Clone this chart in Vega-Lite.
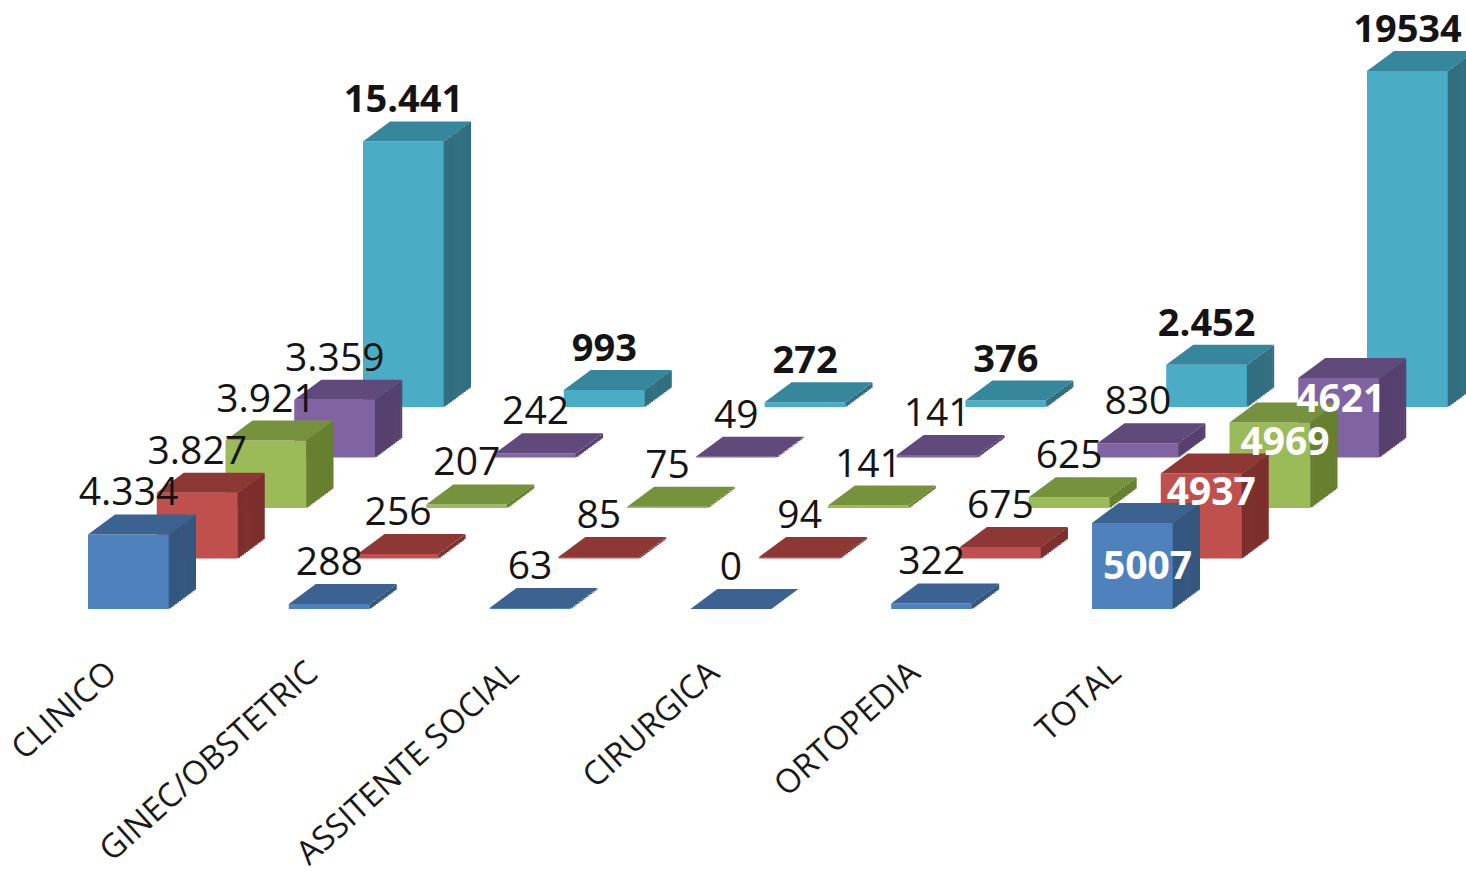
{"$schema":"https://vega.github.io/schema/vega-lite/v6.json","width":1466,"height":650,"padding":{"left":0,"top":0,"right":0,"bottom":224},"autosize":{"type":"none"},"background":"white","view":{"stroke":null},
"datasets":{"rows":[
{"cat":"CLINICO","series":"S5","value":15441,"label":"15.441"},{"cat":"GINEC/OBSTETRIC","series":"S5","value":993,"label":"993"},{"cat":"ASSITENTE SOCIAL","series":"S5","value":272,"label":"272"},{"cat":"CIRURGICA","series":"S5","value":376,"label":"376"},{"cat":"ORTOPEDIA","series":"S5","value":2452,"label":"2.452"},{"cat":"TOTAL","series":"S5","value":19534,"label":"19534"},
{"cat":"CLINICO","series":"S4","value":3359,"label":"3.359"},{"cat":"GINEC/OBSTETRIC","series":"S4","value":242,"label":"242"},{"cat":"ASSITENTE SOCIAL","series":"S4","value":49,"label":"49"},{"cat":"CIRURGICA","series":"S4","value":141,"label":"141"},{"cat":"ORTOPEDIA","series":"S4","value":830,"label":"830"},{"cat":"TOTAL","series":"S4","value":4621,"label":"4621"},
{"cat":"CLINICO","series":"S3","value":3921,"label":"3.921"},{"cat":"GINEC/OBSTETRIC","series":"S3","value":207,"label":"207"},{"cat":"ASSITENTE SOCIAL","series":"S3","value":75,"label":"75"},{"cat":"CIRURGICA","series":"S3","value":141,"label":"141"},{"cat":"ORTOPEDIA","series":"S3","value":625,"label":"625"},{"cat":"TOTAL","series":"S3","value":4969,"label":"4969"},
{"cat":"CLINICO","series":"S2","value":3827,"label":"3.827"},{"cat":"GINEC/OBSTETRIC","series":"S2","value":256,"label":"256"},{"cat":"ASSITENTE SOCIAL","series":"S2","value":85,"label":"85"},{"cat":"CIRURGICA","series":"S2","value":94,"label":"94"},{"cat":"ORTOPEDIA","series":"S2","value":675,"label":"675"},{"cat":"TOTAL","series":"S2","value":4937,"label":"4937"},
{"cat":"CLINICO","series":"S1","value":4334,"label":"4.334"},{"cat":"GINEC/OBSTETRIC","series":"S1","value":288,"label":"288"},{"cat":"ASSITENTE SOCIAL","series":"S1","value":63,"label":"63"},{"cat":"CIRURGICA","series":"S1","value":0,"label":"0"},{"cat":"ORTOPEDIA","series":"S1","value":322,"label":"322"},{"cat":"TOTAL","series":"S1","value":5007,"label":"5007"}
]},
"data":{"name":"rows"},
"encoding":{
"x":{"field":"cat","type":"nominal","sort":null,"title":null,"scale":{"domain":["CLINICO","GINEC/OBSTETRIC","ASSITENTE SOCIAL","CIRURGICA","ORTOPEDIA","TOTAL"],"range":[28.1,1232.9],"paddingInner":0,"paddingOuter":0},"axis":{"domain":false,"ticks":false,"labelAngle":-42,"labelFont":"Open Sans","labelFontSize":33,"labelColor":"#1a1a1a","labelPadding":6,"labelOffset":-27,"labelLimit":500,"labelOverlap":false,"grid":false}},
"y":{"field":"value","type":"quantitative","stack":null,"title":null,"scale":{"domain":[0,35000],"range":[609,7],"nice":false,"zero":false},"axis":null}
},
"resolve":{"scale":{"color":"independent"}},
"layer":[
{"mark":{"type":"bar","width":81,"xOffset":{"expr":"indexof(['S1','S2','S3','S4','S5'],datum.series)*68.75"},"yOffset":{"expr":"indexof(['S1','S2','S3','S4','S5'],datum.series)*-50.5"},"y2Offset":{"expr":"indexof(['S1','S2','S3','S4','S5'],datum.series)*-50.5"}},"encoding":{"y2":{"datum":0},"color":{"field":"series","type":"nominal","legend":null,"scale":{"domain":["S1","S2","S3","S4","S5"],"range":["#4F81BD","#C0504D","#9BBB59","#8064A2","#4BACC6"]}}}},
{"mark":{"type":"rule","strokeWidth":2.6,"xOffset":{"expr":"indexof(['S1','S2','S3','S4','S5'],datum.series)*68.75+41.5"},"yOffset":{"expr":"indexof(['S1','S2','S3','S4','S5'],datum.series)*-50.5-0.7"},"y2Offset":{"expr":"indexof(['S1','S2','S3','S4','S5'],datum.series)*-50.5-0.7"}},"encoding":{"y2":{"datum":0},"color":{"field":"series","type":"nominal","legend":null,"scale":{"domain":["S1","S2","S3","S4","S5"],"range":["#345780","#7C2F2D","#66802F","#57406F","#316F80"]}}}},
{"mark":{"type":"rule","strokeWidth":2.6,"xOffset":{"expr":"indexof(['S1','S2','S3','S4','S5'],datum.series)*68.75+43.43"},"yOffset":{"expr":"indexof(['S1','S2','S3','S4','S5'],datum.series)*-50.5-2.13"},"y2Offset":{"expr":"indexof(['S1','S2','S3','S4','S5'],datum.series)*-50.5-2.13"}},"encoding":{"y2":{"datum":0},"color":{"field":"series","type":"nominal","legend":null,"scale":{"domain":["S1","S2","S3","S4","S5"],"range":["#345780","#7C2F2D","#66802F","#57406F","#316F80"]}}}},
{"mark":{"type":"rule","strokeWidth":2.6,"xOffset":{"expr":"indexof(['S1','S2','S3','S4','S5'],datum.series)*68.75+45.36"},"yOffset":{"expr":"indexof(['S1','S2','S3','S4','S5'],datum.series)*-50.5-3.56"},"y2Offset":{"expr":"indexof(['S1','S2','S3','S4','S5'],datum.series)*-50.5-3.56"}},"encoding":{"y2":{"datum":0},"color":{"field":"series","type":"nominal","legend":null,"scale":{"domain":["S1","S2","S3","S4","S5"],"range":["#345780","#7C2F2D","#66802F","#57406F","#316F80"]}}}},
{"mark":{"type":"rule","strokeWidth":2.6,"xOffset":{"expr":"indexof(['S1','S2','S3','S4','S5'],datum.series)*68.75+47.29"},"yOffset":{"expr":"indexof(['S1','S2','S3','S4','S5'],datum.series)*-50.5-4.99"},"y2Offset":{"expr":"indexof(['S1','S2','S3','S4','S5'],datum.series)*-50.5-4.99"}},"encoding":{"y2":{"datum":0},"color":{"field":"series","type":"nominal","legend":null,"scale":{"domain":["S1","S2","S3","S4","S5"],"range":["#345780","#7C2F2D","#66802F","#57406F","#316F80"]}}}},
{"mark":{"type":"rule","strokeWidth":2.6,"xOffset":{"expr":"indexof(['S1','S2','S3','S4','S5'],datum.series)*68.75+49.22"},"yOffset":{"expr":"indexof(['S1','S2','S3','S4','S5'],datum.series)*-50.5-6.42"},"y2Offset":{"expr":"indexof(['S1','S2','S3','S4','S5'],datum.series)*-50.5-6.42"}},"encoding":{"y2":{"datum":0},"color":{"field":"series","type":"nominal","legend":null,"scale":{"domain":["S1","S2","S3","S4","S5"],"range":["#345780","#7C2F2D","#66802F","#57406F","#316F80"]}}}},
{"mark":{"type":"rule","strokeWidth":2.6,"xOffset":{"expr":"indexof(['S1','S2','S3','S4','S5'],datum.series)*68.75+51.15"},"yOffset":{"expr":"indexof(['S1','S2','S3','S4','S5'],datum.series)*-50.5-7.85"},"y2Offset":{"expr":"indexof(['S1','S2','S3','S4','S5'],datum.series)*-50.5-7.85"}},"encoding":{"y2":{"datum":0},"color":{"field":"series","type":"nominal","legend":null,"scale":{"domain":["S1","S2","S3","S4","S5"],"range":["#345780","#7C2F2D","#66802F","#57406F","#316F80"]}}}},
{"mark":{"type":"rule","strokeWidth":2.6,"xOffset":{"expr":"indexof(['S1','S2','S3','S4','S5'],datum.series)*68.75+53.08"},"yOffset":{"expr":"indexof(['S1','S2','S3','S4','S5'],datum.series)*-50.5-9.28"},"y2Offset":{"expr":"indexof(['S1','S2','S3','S4','S5'],datum.series)*-50.5-9.28"}},"encoding":{"y2":{"datum":0},"color":{"field":"series","type":"nominal","legend":null,"scale":{"domain":["S1","S2","S3","S4","S5"],"range":["#345780","#7C2F2D","#66802F","#57406F","#316F80"]}}}},
{"mark":{"type":"rule","strokeWidth":2.6,"xOffset":{"expr":"indexof(['S1','S2','S3','S4','S5'],datum.series)*68.75+55.01"},"yOffset":{"expr":"indexof(['S1','S2','S3','S4','S5'],datum.series)*-50.5-10.71"},"y2Offset":{"expr":"indexof(['S1','S2','S3','S4','S5'],datum.series)*-50.5-10.71"}},"encoding":{"y2":{"datum":0},"color":{"field":"series","type":"nominal","legend":null,"scale":{"domain":["S1","S2","S3","S4","S5"],"range":["#345780","#7C2F2D","#66802F","#57406F","#316F80"]}}}},
{"mark":{"type":"rule","strokeWidth":2.6,"xOffset":{"expr":"indexof(['S1','S2','S3','S4','S5'],datum.series)*68.75+56.94"},"yOffset":{"expr":"indexof(['S1','S2','S3','S4','S5'],datum.series)*-50.5-12.14"},"y2Offset":{"expr":"indexof(['S1','S2','S3','S4','S5'],datum.series)*-50.5-12.14"}},"encoding":{"y2":{"datum":0},"color":{"field":"series","type":"nominal","legend":null,"scale":{"domain":["S1","S2","S3","S4","S5"],"range":["#345780","#7C2F2D","#66802F","#57406F","#316F80"]}}}},
{"mark":{"type":"rule","strokeWidth":2.6,"xOffset":{"expr":"indexof(['S1','S2','S3','S4','S5'],datum.series)*68.75+58.87"},"yOffset":{"expr":"indexof(['S1','S2','S3','S4','S5'],datum.series)*-50.5-13.57"},"y2Offset":{"expr":"indexof(['S1','S2','S3','S4','S5'],datum.series)*-50.5-13.57"}},"encoding":{"y2":{"datum":0},"color":{"field":"series","type":"nominal","legend":null,"scale":{"domain":["S1","S2","S3","S4","S5"],"range":["#345780","#7C2F2D","#66802F","#57406F","#316F80"]}}}},
{"mark":{"type":"rule","strokeWidth":2.6,"xOffset":{"expr":"indexof(['S1','S2','S3','S4','S5'],datum.series)*68.75+60.8"},"yOffset":{"expr":"indexof(['S1','S2','S3','S4','S5'],datum.series)*-50.5-15"},"y2Offset":{"expr":"indexof(['S1','S2','S3','S4','S5'],datum.series)*-50.5-15"}},"encoding":{"y2":{"datum":0},"color":{"field":"series","type":"nominal","legend":null,"scale":{"domain":["S1","S2","S3","S4","S5"],"range":["#345780","#7C2F2D","#66802F","#57406F","#316F80"]}}}},
{"mark":{"type":"rule","strokeWidth":2.6,"xOffset":{"expr":"indexof(['S1','S2','S3','S4','S5'],datum.series)*68.75+62.73"},"yOffset":{"expr":"indexof(['S1','S2','S3','S4','S5'],datum.series)*-50.5-16.43"},"y2Offset":{"expr":"indexof(['S1','S2','S3','S4','S5'],datum.series)*-50.5-16.43"}},"encoding":{"y2":{"datum":0},"color":{"field":"series","type":"nominal","legend":null,"scale":{"domain":["S1","S2","S3","S4","S5"],"range":["#345780","#7C2F2D","#66802F","#57406F","#316F80"]}}}},
{"mark":{"type":"rule","strokeWidth":2.6,"xOffset":{"expr":"indexof(['S1','S2','S3','S4','S5'],datum.series)*68.75+64.66"},"yOffset":{"expr":"indexof(['S1','S2','S3','S4','S5'],datum.series)*-50.5-17.86"},"y2Offset":{"expr":"indexof(['S1','S2','S3','S4','S5'],datum.series)*-50.5-17.86"}},"encoding":{"y2":{"datum":0},"color":{"field":"series","type":"nominal","legend":null,"scale":{"domain":["S1","S2","S3","S4","S5"],"range":["#345780","#7C2F2D","#66802F","#57406F","#316F80"]}}}},
{"mark":{"type":"rule","strokeWidth":2,"xOffset":{"expr":"indexof(['S1','S2','S3','S4','S5'],datum.series)*68.75+66.5"},"yOffset":{"expr":"indexof(['S1','S2','S3','S4','S5'],datum.series)*-50.5-19.3"},"y2Offset":{"expr":"indexof(['S1','S2','S3','S4','S5'],datum.series)*-50.5-19.3"}},"encoding":{"y2":{"datum":0},"color":{"field":"series","type":"nominal","legend":null,"scale":{"domain":["S1","S2","S3","S4","S5"],"range":["#345780","#7C2F2D","#66802F","#57406F","#316F80"]}}}},
{"mark":{"type":"point","filled":true,"opacity":1,"strokeWidth":0,"size":4,"shape":"M-40.5,0L40.5,0L67.5,-20L-13.5,-20Z","xOffset":{"expr":"indexof(['S1','S2','S3','S4','S5'],datum.series)*68.75"},"yOffset":{"expr":"indexof(['S1','S2','S3','S4','S5'],datum.series)*-50.5"}},"encoding":{"color":{"field":"series","type":"nominal","legend":null,"scale":{"domain":["S1","S2","S3","S4","S5"],"range":["#3B6290","#8E3836","#76923C","#604A7B","#37879C"]}}}},
{"transform":[{"filter":"datum.series!='S5' && datum.cat!='TOTAL'"}],"mark":{"type":"text","font":"Open Sans","fontSize":39,"align":"center","baseline":"alphabetic","dy":-29,"color":"#141414","xOffset":{"expr":"indexof(['S1','S2','S3','S4','S5'],datum.series)*68.75"},"yOffset":{"expr":"indexof(['S1','S2','S3','S4','S5'],datum.series)*-50.5"}},"encoding":{"text":{"field":"label"}}},
{"transform":[{"filter":"datum.series=='S5'"}],"mark":{"type":"text","font":"Open Sans","fontSize":38,"fontWeight":"bold","align":"center","baseline":"alphabetic","dy":-29,"color":"#141414","xOffset":{"expr":"indexof(['S1','S2','S3','S4','S5'],datum.series)*68.75"},"yOffset":{"expr":"indexof(['S1','S2','S3','S4','S5'],datum.series)*-50.5"}},"encoding":{"text":{"field":"label"}}},
{"transform":[{"filter":"datum.cat=='TOTAL' && datum.series!='S5'"}],"mark":{"type":"text","font":"Open Sans","fontSize":39,"fontWeight":"bold","align":"center","baseline":"alphabetic","color":"white","dx":{"expr":"[15,10,15,2][indexof(['S1','S2','S3','S4'],datum.series)]"},"dy":{"expr":"[56,31,32,34][indexof(['S1','S2','S3','S4'],datum.series)]"},"xOffset":{"expr":"indexof(['S1','S2','S3','S4','S5'],datum.series)*68.75"},"yOffset":{"expr":"indexof(['S1','S2','S3','S4','S5'],datum.series)*-50.5"}},"encoding":{"text":{"field":"label"}}}
]}
